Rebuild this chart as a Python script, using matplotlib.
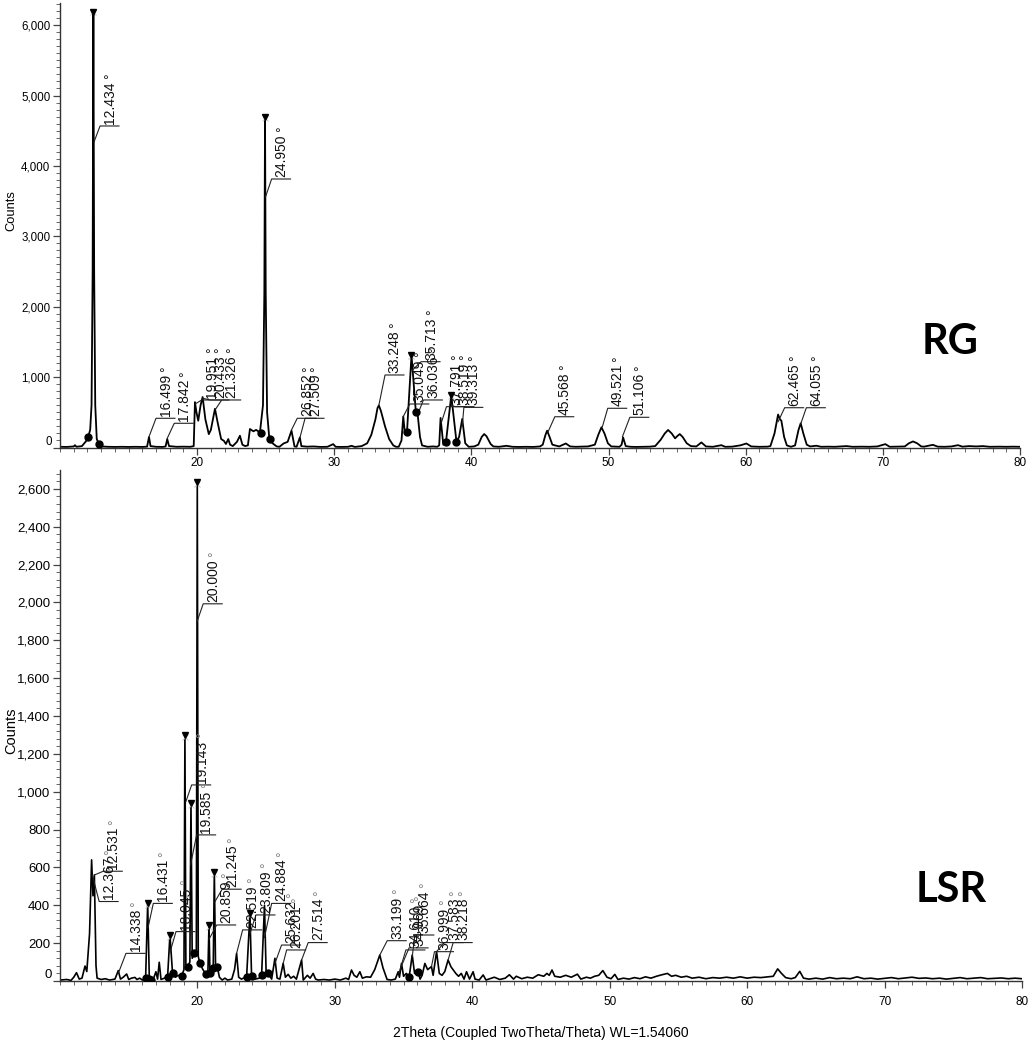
import matplotlib
matplotlib.use('Agg')
import matplotlib.pyplot as plt
from matplotlib.ticker import MultipleLocator, FuncFormatter

# ---------------- RG pattern (2theta, counts) ----------------
rg_x = [10.0, 10.5, 11.0, 11.09, 11.2, 11.6, 11.9, 12.05, 12.2, 12.3, 12.38, 12.434, 12.49, 12.57,
        12.68, 12.84, 13.0, 13.5, 14.0, 14.5, 15.0, 15.5, 16.0, 16.35, 16.49, 16.6, 17.0, 17.5, 17.7,
        17.82, 17.95, 18.5, 19.0, 19.5, 19.75, 19.84, 19.95, 20.08, 20.25, 20.4, 20.6, 20.85, 21.0,
        21.3, 21.5, 21.75, 21.95, 22.1, 22.27, 22.4, 22.6, 22.9, 23.12, 23.3, 23.5, 23.7, 23.85, 24.1,
        24.3, 24.58, 24.8, 24.9, 24.95, 25.0, 25.1, 25.26, 25.5, 25.8, 26.0, 26.3, 26.6, 26.88, 27.1,
        27.25, 27.49, 27.6, 28.0, 28.5, 29.0, 29.5, 29.92, 30.1, 30.5, 31.0, 31.26, 31.5, 32.0, 32.4,
        32.7, 33.0, 33.15, 33.25, 33.4, 33.7, 34.0, 34.3, 34.5, 34.7, 34.9, 35.03, 35.15, 35.3, 35.63,
        35.95, 36.08, 36.25, 36.4, 36.8, 37.2, 37.5, 37.65, 37.75, 37.95, 38.14, 38.53, 38.91, 39.1,
        39.33, 39.55, 39.8, 40.2, 40.5, 40.75, 40.93, 41.1, 41.4, 41.6, 42.0, 42.56, 43.0, 43.5, 44.0,
        44.5, 45.0, 45.2, 45.4, 45.52, 45.7, 45.9, 46.4, 46.88, 47.2, 47.6, 48.0, 48.5, 49.0, 49.25,
        49.48, 49.7, 49.95, 50.2, 50.8, 50.95, 51.06, 51.25, 51.6, 52.0, 52.5, 53.0, 53.4, 53.8, 54.1,
        54.34, 54.6, 54.85, 55.0, 55.19, 55.4, 55.7, 56.0, 56.4, 56.77, 57.1, 57.6, 58.23, 58.5, 59.0,
        59.6, 60.05, 60.4, 61.0, 61.6, 61.8, 62.1, 62.36, 62.5, 62.6, 62.8, 63.0, 63.3, 63.6, 63.85,
        64.01, 64.2, 64.45, 64.7, 65.15, 65.5, 66.0, 66.5, 67.34, 67.8, 68.5, 69.0, 69.6, 70.18, 70.5,
        71.0, 71.6, 71.9, 72.2, 72.5, 72.8, 73.0, 73.65, 74.0, 74.5, 75.0, 75.48, 75.8, 76.3, 76.8,
        77.3, 77.8, 78.5, 79.0, 79.5, 80.0]
rg_y = [10, 8, 15, 33, 10, 20, 90, 150, 250, 600, 2500, 6190, 2500, 600,
        120, 50, 15, 10, 8, 10, 8, 10, 8, 12, 150, 20, 10, 8, 15,
        120, 20, 10, 12, 10, 20, 645, 500, 380, 600, 717, 400, 190, 250,
        550, 350, 120, 95, 50, 120, 40, 20, 80, 167, 40, 20, 30, 263, 230,
        250, 215, 600, 2200, 4695, 2200, 500, 134, 60, 15, 10, 57, 80, 239, 15,
        10, 143, 20, 12, 15, 8, 10, 48, 10, 8, 10, 24, 8, 20, 60,
        180, 400, 560, 598, 520, 300, 120, 30, 10, 10, 100, 440, 200, 215, 1310,
        500, 470, 150, 30, 10, 15, 10, 30, 420, 40, 72, 740, 81, 150,
        406, 60, 10, 15, 40, 150, 191, 160, 50, 15, 10, 24, 10, 8, 10,
        8, 15, 40, 180, 239, 150, 40, 15, 57, 15, 10, 12, 15, 40, 180,
        287, 200, 60, 15, 10, 40, 143, 20, 10, 8, 10, 12, 20, 110, 200,
        249, 200, 130, 160, 191, 150, 60, 20, 15, 72, 15, 10, 33, 10, 12,
        30, 57, 15, 10, 12, 20, 200, 468, 400, 380, 150, 30, 10, 30, 250,
        344, 200, 40, 15, 25, 10, 12, 10, 20, 10, 12, 10, 15, 48, 10,
        12, 15, 60, 86, 60, 15, 12, 38, 12, 10, 15, 33, 12, 20, 15,
        20, 10, 12, 10, 12, 10]

rg_tri_x = [12.434, 24.95, 35.63, 38.53]
rg_tri_y = [6190, 4695, 1310, 740]
rg_dot_x = [12.05, 12.84, 24.62, 25.28, 35.3, 35.95, 38.14, 38.91]
rg_dot_y = [150, 50, 200, 120, 215, 500, 72, 81]

rg_lab_text = ["12.434", "16.499", "17.842", "19.951", "20.433", "21.326", "24.950", "26.852",
               "27.509", "33.248", "35.049", "35.713", "36.036", "37.791", "38.519", "39.313",
               "45.568", "49.521", "51.106", "62.465", "64.055"]
rg_lab_px = [12.48, 16.51, 17.82, 19.87, 20.40, 21.33, 24.99, 26.88, 27.50, 33.25, 35.03, 35.70,
             36.08, 37.80, 38.53, 39.33, 45.59, 49.55, 51.01, 62.36, 64.01]
rg_lab_py = [4340, 163, 130, 620, 700, 540, 3562, 249, 143, 600, 440, 1100, 470, 350, 600, 306,
             224, 295, 153, 366, 334]
rg_lab_ex = [12.92, 17.00, 18.33, 20.33, 20.94, 21.79, 25.43, 27.30, 27.87, 33.70, 35.51, 36.33,
             36.50, 38.18, 38.80, 39.45, 46.08, 49.94, 51.55, 62.84, 64.42]
rg_lab_ey = [4567, 415, 344, 675, 675, 675, 3814, 415, 415, 1030, 618, 1219, 675, 580, 580, 570,
             437, 557, 429, 565, 565]

# ---------------- LSR pattern (2theta, counts) ----------------
lsr_x = [10.0, 10.5, 10.8, 11.0, 11.2, 11.4, 11.6, 11.82, 11.95, 12.15, 12.3, 12.4, 12.5, 12.62,
         12.7, 13.0, 13.3, 13.6, 14.0, 14.24, 14.4, 14.6, 14.85, 15.0, 15.2, 15.45, 15.6, 15.8, 16.0,
         16.23, 16.38, 16.5, 16.62, 16.8, 16.98, 17.1, 17.22, 17.35, 17.6, 17.83, 18.0, 18.19, 18.4,
         18.6, 18.85, 19.02, 19.09, 19.16, 19.29, 19.45, 19.53, 19.62, 19.77, 19.92, 19.99, 20.06,
         20.18, 20.4, 20.62, 20.76, 20.84, 20.91, 21.15, 21.23, 21.32, 21.44, 21.6, 21.8, 22.0, 22.2,
         22.5, 22.7, 22.85, 23.0, 23.2, 23.58, 23.82, 23.94, 24.2, 24.5, 24.67, 24.88, 25.0, 25.15,
         25.4, 25.64, 25.8, 26.0, 26.24, 26.4, 26.6, 26.8, 27.0, 27.2, 27.58, 27.7, 28.0, 28.2, 28.42,
         28.6, 28.8, 29.2, 29.6, 30.0, 30.4, 30.8, 31.0, 31.21, 31.4, 31.6, 31.82, 32.0, 32.3, 32.6,
         32.9, 33.27, 33.5, 33.8, 34.1, 34.4, 34.61, 34.7, 34.85, 35.0, 35.2, 35.41, 35.63, 35.8,
         36.06, 36.2, 36.35, 36.55, 36.75, 37.03, 37.15, 37.4, 37.6, 37.8, 38.0, 38.24, 38.45, 38.6,
         38.8, 39.0, 39.2, 39.4, 39.58, 39.8, 40.06, 40.2, 40.5, 40.79, 41.0, 41.6, 42.0, 42.4, 42.7,
         43.0, 43.2, 43.6, 44.0, 44.4, 44.8, 45.2, 45.43, 45.6, 45.8, 46.0, 46.4, 46.8, 47.2, 47.65,
         47.9, 48.3, 48.6, 48.9, 49.2, 49.5, 49.8, 50.1, 50.37, 50.6, 51.0, 51.4, 51.8, 52.2, 52.6,
         53.0, 53.4, 53.8, 54.2, 54.5, 54.8, 55.2, 55.6, 56.0, 56.5, 57.0, 57.5, 58.0, 58.5, 59.0,
         59.5, 60.0, 60.5, 61.0, 61.5, 61.9, 62.22, 62.5, 62.8, 63.2, 63.5, 63.83, 64.1, 64.5, 65.0,
         65.5, 66.0, 66.5, 67.0, 67.5, 68.0, 68.5, 69.0, 69.5, 70.0, 70.5, 71.0, 71.5, 72.0, 72.5,
         73.0, 73.5, 74.0, 74.5, 75.0, 75.5, 76.0, 76.5, 77.0, 77.5, 78.0, 78.5, 79.0, 79.5, 80.0]
lsr_y = [5, 8, 3, 20, 44, 10, 15, 79, 50, 250, 640, 450, 560, 80,
         15, 8, 12, 5, 10, 55, 10, 20, 37, 8, 15, 19, 8, 15, 5,
         14, 410, 9, 5, 12, 49, 10, 99, 8, 15, 23, 243, 40, 20,
         30, 26, 60, 1300, 70, 76, 100, 940, 120, 146, 140, 2634, 130,
         93, 60, 37, 40, 296, 44, 67, 578, 70, 76, 20, 5, 15, 5,
         10, 60, 146, 20, 10, 23, 357, 26, 10, 15, 32, 400, 40, 40,
         10, 120, 15, 10, 93, 20, 35, 15, 25, 10, 111, 5, 30, 15, 40,
         10, 5, 8, 5, 10, 5, 15, 8, 58, 30, 20, 49, 15, 22, 20,
         60, 137, 70, 8, 5, 10, 49, 20, 93, 25, 40, 23, 137, 40,
         49, 10, 30, 93, 60, 76, 30, 155, 40, 30, 50, 111, 75, 60,
         40, 25, 40, 10, 49, 10, 49, 10, 5, 32, 5, 20, 8, 15, 33,
         10, 25, 12, 20, 15, 33, 25, 40, 30, 58, 25, 20, 30, 20, 36,
         10, 20, 15, 25, 30, 55, 20, 12, 35, 8, 15, 10, 18, 12, 22,
         15, 25, 33, 40, 25, 30, 20, 25, 15, 20, 12, 18, 15, 20, 15,
         22, 15, 20, 18, 22, 25, 64, 40, 18, 12, 18, 51, 15, 10, 15,
         10, 18, 12, 15, 12, 22, 12, 15, 10, 14, 18, 12, 16, 20, 14,
         16, 12, 15, 10, 14, 18, 12, 15, 18, 12, 14, 16, 12, 15, 12]

lsr_tri_x = [16.38, 18.0, 19.09, 19.53, 19.99, 20.84, 21.23, 23.82]
lsr_tri_y = [410, 243, 1300, 940, 2634, 296, 578, 357]
lsr_dot_x = [16.23, 16.5, 16.62, 17.83, 18.19, 18.85, 19.29, 19.77, 20.18, 20.62, 20.91, 21.15,
             21.44, 23.58, 23.94, 24.67, 25.15, 35.41, 36.06]
lsr_dot_y = [14, 9, 5, 23, 40, 26, 76, 146, 93, 37, 44, 67, 76, 23, 26, 32, 40, 23, 49]

lsr_lab_text = ["12.367", "12.531", "14.338", "16.431", "18.045", "19.143", "19.585", "20.000",
                "20.859", "21.245", "22.519", "23.809", "24.884", "25.632", "26.201", "27.514",
                "33.199", "34.610", "34.969", "35.664", "36.999", "37.583", "38.218"]
lsr_lab_px = [12.35, 12.5, 14.24, 16.40, 18.0, 19.16, 19.50, 19.94, 20.84, 21.28, 22.85, 23.82,
              24.88, 25.64, 26.24, 27.58, 33.27, 34.66, 34.85, 35.63, 37.03, 37.40, 38.24]
lsr_lab_py = [560, 560, 40, 280, 150, 948, 613, 1892, 220, 420, 146, 250, 230, 93, 93, 111,
              137, 40, 80, 128, 76, 155, 111]
lsr_lab_ex = [12.85, 13.15, 14.80, 16.79, 18.44, 19.58, 19.94, 20.42, 21.40, 21.80, 23.29, 24.26,
              25.40, 26.12, 26.49, 28.06, 33.81, 35.17, 35.40, 35.82, 37.25, 37.95, 38.61]
lsr_lab_ey = [420, 580, 146, 410, 261, 1036, 772, 1993, 296, 485, 270, 349, 410, 190, 164, 203,
              213, 164, 175, 243, 155, 203, 203]

x_ticks = [20, 30, 40, 50, 60, 70, 80]

plt.rcParams['font.family'] = ['Liberation Sans', 'DejaVu Sans']

W, H = 1031, 1041
fig = plt.figure(figsize=(W / 100, H / 100), dpi=100)
ax1 = fig.add_axes([60 / W, 1 - 447.5 / H, 960 / W, 444.5 / H])
ax2 = fig.add_axes([60 / W, 1 - 981 / H, 962 / W, 511 / H])


def style_axis(ax, ymax, ymajor, yminor, ylab_fs, xpad, lab_xy):
    ax.set_xlim(10, 80)
    ax.set_ylim(0, ymax)
    for s in ['top', 'right']:
        ax.spines[s].set_visible(False)
    for s in ['left', 'bottom']:
        ax.spines[s].set_linewidth(1.0)
        ax.spines[s].set_color('#333333')
    ax.set_xticks(x_ticks)
    ax.xaxis.set_minor_locator(MultipleLocator(1))
    ax.yaxis.set_major_locator(MultipleLocator(ymajor))
    ax.yaxis.set_minor_locator(MultipleLocator(yminor))
    ax.yaxis.set_major_formatter(FuncFormatter(lambda v, p: '' if v == 0 else f'{int(v):,}'))
    ax.tick_params(axis='both', which='major', direction='out', length=5, width=0.9,
                   color='#444444', labelsize=ylab_fs, pad=2)
    ax.tick_params(axis='x', which='major', labelsize=8.5, pad=xpad)
    ax.tick_params(axis='both', which='minor', direction='out', length=3, width=0.7,
                   color='#666666')
    ax.set_ylabel('Counts', fontsize=ylab_fs + 1, va='center')
    ax.yaxis.set_label_coords(*lab_xy)
    ax.annotate('0', xy=(0, 0), xycoords=('axes fraction', 'data'), xytext=(-6, 4),
                textcoords='offset points', ha='right', va='center', fontsize=ylab_fs)


def label_len_pt(s, fs):
    return fs * (0.556 * sum(c.isdigit() for c in s) + 0.278 * s.count('.'))


def draw_labels(ax, texts, px, py, ex, ey, deg_color):
    fs = 10
    for t, a, b, c, d in zip(texts, px, py, ex, ey):
        ax.plot([a, c, c + 1.38], [b, d, d], color='#222222', lw=0.8, zorder=3)
        ax.annotate(t, xy=(c + 0.72, d), xytext=(0, 1.5), textcoords='offset points',
                    rotation=90, ha='center', va='bottom', fontsize=fs, color='#111111', zorder=4)
        L = label_len_pt(t, fs)
        ax.annotate('°', xy=(c + 0.72, d), xytext=(0.5, 1.5 + L + 3.5), textcoords='offset points',
                    rotation=90, ha='center', va='center', fontsize=fs, color=deg_color, zorder=4)


# ---- top panel ----
style_axis(ax1, 6314, 1000, 100, 8.3, 2, (-0.051, 0.534))
ax1.plot(rg_x, rg_y, color='black', lw=1.3, zorder=2)
ax1.plot(rg_tri_x, [v - 10 for v in rg_tri_y], 'x', color='#cccccc', ms=5, mew=0.8, zorder=2)
ax1.plot(rg_tri_x, rg_tri_y, 'v', color='black', ms=5, zorder=5)
ax1.plot(rg_dot_x, rg_dot_y, 'o', color='black', ms=5, zorder=5)
draw_labels(ax1, rg_lab_text, rg_lab_px, rg_lab_py, rg_lab_ex, rg_lab_ey, '#222222')
fig.text(950 / W, 1 - 342 / H, 'RG', fontsize=30, fontweight='bold', family='Lato',
         ha='center', va='center')

# ---- bottom panel ----
style_axis(ax2, 2700, 200, 40, 9.5, 6, (-0.051, 0.49))
ax2.plot(lsr_x, lsr_y, color='black', lw=1.2, zorder=2)
ax2.plot(lsr_tri_x, [v - 10 for v in lsr_tri_y], 'x', color='#cccccc', ms=5, mew=0.8, zorder=2)
ax2.plot(lsr_tri_x, lsr_tri_y, 'v', color='black', ms=5, zorder=5)
ax2.plot(lsr_dot_x, lsr_dot_y, 'o', color='black', ms=5, zorder=5)
draw_labels(ax2, lsr_lab_text, lsr_lab_px, lsr_lab_py, lsr_lab_ex, lsr_lab_ey, '#888888')
ax2.set_xlabel('2Theta (Coupled TwoTheta/Theta) WL=1.54060', fontsize=10, labelpad=13)
fig.text(951 / W, 1 - 890 / H, 'LSR', fontsize=30, fontweight='bold', family='Lato',
         ha='center', va='center')

fig.savefig('out.png', dpi=100)
